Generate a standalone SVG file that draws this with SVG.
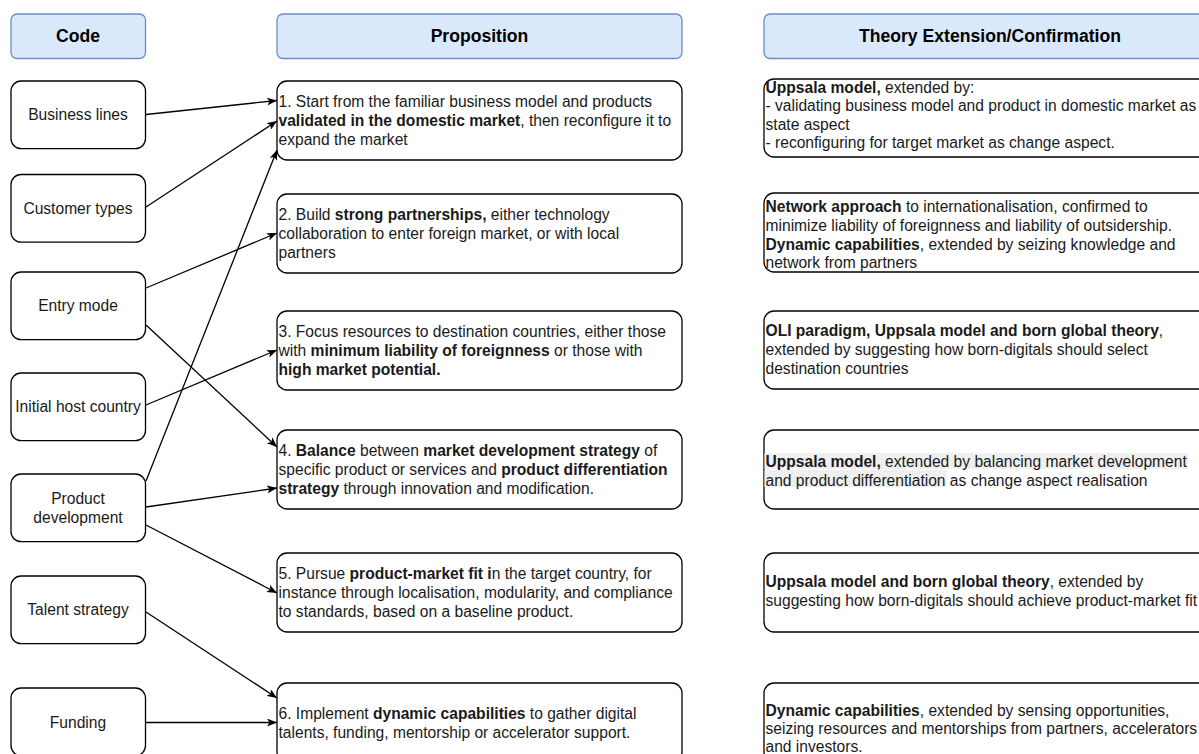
<svg xmlns="http://www.w3.org/2000/svg" width="1199" height="754" viewBox="0 0 1199 754">
<style>
.hdr{fill:#dae8fc;stroke:#6c8ebf;stroke-width:1.3}
.box{fill:#fff;stroke:#000;stroke-width:1.3}
.ht{font-family:"Liberation Sans",Arial,sans-serif;font-size:17.6px;font-weight:bold;fill:#000;text-anchor:middle}
.ct{font-family:"Liberation Sans",Arial,sans-serif;font-size:15.6px;fill:#1a1a1a;text-anchor:middle}
.t{font-family:"Liberation Sans",Arial,sans-serif;font-size:15.6px;fill:#1a1a1a}
.b{font-weight:bold}
.hl{fill:#efefef}
.edge{fill:none;stroke:#000;stroke-width:1.3;marker-end:url(#arr)}
</style>
<defs>
<marker id="arr" markerUnits="userSpaceOnUse" markerWidth="10" markerHeight="8" viewBox="0 0 10 8" refX="10" refY="4" orient="auto">
<path d="M0,0 L10,4 L0,8 L2.5,4 Z" fill="#000"/>
</marker>
</defs>
<rect width="1199" height="754" fill="#fff"/>

<g id="header-code"><rect class="hdr" x="11" y="14" width="134.5" height="44.5" rx="6"/><text class="ht" x="78" y="42">Code</text></g>
<g id="header-proposition"><rect class="hdr" x="277" y="14" width="405" height="44.5" rx="6"/><text class="ht" x="479.5" y="42">Proposition</text></g>
<g id="header-theory"><rect class="hdr" x="764" y="14" width="452" height="44.5" rx="6"/><text class="ht" x="990" y="42">Theory Extension/Confirmation</text></g>

<g id="code-business-lines"><rect class="box" x="11" y="81" width="134.5" height="67.6" rx="10"/><text class="ct" x="78" y="120">Business lines</text></g>
<g id="code-customer-types"><rect class="box" x="11" y="174.5" width="134.5" height="67.6" rx="10"/><text class="ct" x="78" y="213.6">Customer types</text></g>
<g id="code-entry-mode"><rect class="box" x="11" y="272" width="134.5" height="67.6" rx="10"/><text class="ct" x="78" y="311.4">Entry mode</text></g>
<g id="code-initial-host-country"><rect class="box" x="11" y="373" width="134.5" height="67.6" rx="10"/><text class="ct" x="78" y="412.4">Initial host country</text></g>
<g id="code-product-development"><rect class="box" x="11" y="474" width="134.5" height="67.6" rx="10"/><text class="ct" x="78"><tspan x="78" y="504.2">Product</tspan><tspan x="78" y="523">development</tspan></text></g>
<g id="code-talent-strategy"><rect class="box" x="11" y="576" width="134.5" height="67.6" rx="10"/><text class="ct" x="78" y="615.2">Talent strategy</text></g>
<g id="code-funding"><rect class="box" x="11" y="688" width="134.5" height="67.6" rx="10"/><text class="ct" x="78" y="727.6">Funding</text></g>

<g id="prop-1"><rect class="box" x="277" y="81" width="405" height="79" rx="10"/>
<text class="t"><tspan x="278.5" y="107.4">1. Start from the familiar business model and products</tspan><tspan x="278.5" y="126.1"><tspan class="b">validated in the domestic market</tspan>, then reconfigure it to</tspan><tspan x="278.5" y="144.8">expand the market</tspan></text></g>
<g id="prop-2"><rect class="box" x="277" y="194" width="405" height="79" rx="10"/>
<text class="t"><tspan x="278.5" y="220.4">2. Build <tspan class="b">strong partnerships,</tspan> either technology</tspan><tspan x="278.5" y="239.1">collaboration to enter foreign market, or with local</tspan><tspan x="278.5" y="257.8">partners</tspan></text></g>
<g id="prop-3"><rect class="box" x="277" y="311" width="405" height="79" rx="10"/>
<text class="t"><tspan x="278.5" y="337.4">3. Focus resources to destination countries, either those</tspan><tspan x="278.5" y="356.1">with <tspan class="b">minimum liability of foreignness</tspan> or those with</tspan><tspan x="278.5" y="374.8" class="b">high market potential.</tspan></text></g>
<g id="prop-4"><rect class="box" x="277" y="430" width="405" height="79" rx="10"/>
<text class="t"><tspan x="278.5" y="456.4">4. <tspan class="b">Balance</tspan> between <tspan class="b">market development strategy</tspan> of</tspan><tspan x="278.5" y="475.1">specific product or services and <tspan class="b">product differentiation</tspan></tspan><tspan x="278.5" y="493.8"><tspan class="b">strategy</tspan> through innovation and modification.</tspan></text></g>
<g id="prop-5"><rect class="box" x="277" y="553" width="405" height="79" rx="10"/>
<text class="t"><tspan x="278.5" y="579.4">5. Pursue <tspan class="b">product-market fit i</tspan>n the target country, for</tspan><tspan x="278.5" y="598.1">instance through localisation, modularity, and compliance</tspan><tspan x="278.5" y="616.8">to standards, based on a baseline product.</tspan></text></g>
<g id="prop-6"><rect class="box" x="277" y="683" width="405" height="79" rx="10"/>
<text class="t"><tspan x="278.5" y="718.7">6. Implement <tspan class="b">dynamic capabilities</tspan> to gather digital</tspan><tspan x="278.5" y="737.5">talents, funding, mentorship or accelerator support.</tspan></text></g>

<g id="theory-1"><rect class="box" x="764" y="79" width="452" height="78" rx="10"/>
<text class="t"><tspan x="765.5" y="92.5"><tspan class="b">Uppsala model,</tspan> extended by:</tspan><tspan x="765.5" y="111">- validating business model and product in domestic market as</tspan><tspan x="765.5" y="129.5">state aspect</tspan><tspan x="765.5" y="148">- reconfiguring for target market as change aspect.</tspan></text></g>
<g id="theory-2"><rect class="box" x="764" y="193" width="452" height="79" rx="10"/>
<text class="t"><tspan x="765.5" y="212"><tspan class="b">Network approach</tspan> to internationalisation, confirmed to</tspan><tspan x="765.5" y="230.7">minimize liability of foreignness and liability of outsidership.</tspan><tspan x="765.5" y="249.5"><tspan class="b">Dynamic capabilities</tspan>, extended by seizing knowledge and</tspan><tspan x="765.5" y="268.2">network from partners</tspan></text></g>
<g id="theory-3"><rect class="box" x="764" y="311" width="452" height="78" rx="10"/>
<text class="t"><tspan x="765.5" y="336.4"><tspan class="b">OLI paradigm, Uppsala model and born global theory</tspan>,</tspan><tspan x="765.5" y="355.1">extended by suggesting how born-digitals should select</tspan><tspan x="765.5" y="373.8">destination countries</tspan></text></g>
<g id="theory-4"><rect class="box" x="764" y="430" width="452" height="79" rx="10"/>
<rect class="hl" x="764.5" y="453" width="423.5" height="16"/><rect class="hl" x="764.5" y="470" width="182" height="17"/>
<text class="t"><tspan x="765.5" y="467.3"><tspan class="b">Uppsala model,</tspan> extended by balancing market development</tspan><tspan x="765.5" y="486">and product differentiation as change aspect realisation</tspan></text></g>
<g id="theory-5"><rect class="box" x="764" y="553" width="452" height="79" rx="10"/>
<text class="t"><tspan x="765.5" y="587.3"><tspan class="b">Uppsala model and born global theory</tspan>, extended by</tspan><tspan x="765.5" y="606.3">suggesting how born-digitals should achieve product-market fit</tspan></text></g>
<g id="theory-6"><rect class="box" x="764" y="683" width="452" height="79" rx="10"/>
<text class="t"><tspan x="765.5" y="715.5"><tspan class="b">Dynamic capabilities</tspan>, extended by sensing opportunities,</tspan><tspan x="765.5" y="734">seizing resources and mentorships from partners, accelerators</tspan><tspan x="765.5" y="752">and investors.</tspan></text></g>

<g id="connectors">
<line class="edge" x1="146" y1="114.5" x2="277" y2="100.5"/>
<line class="edge" x1="146" y1="207" x2="277" y2="121"/>
<line class="edge" x1="146" y1="288" x2="277" y2="233"/>
<line class="edge" x1="146" y1="325" x2="277" y2="447"/>
<line class="edge" x1="146" y1="405" x2="277" y2="350"/>
<line class="edge" x1="146" y1="481" x2="277" y2="150"/>
<line class="edge" x1="146" y1="507" x2="277" y2="488"/>
<line class="edge" x1="146" y1="525" x2="277" y2="593"/>
<line class="edge" x1="146" y1="612" x2="277" y2="698"/>
<line class="edge" x1="146" y1="722.5" x2="277" y2="722.5"/>
</g>
</svg>
